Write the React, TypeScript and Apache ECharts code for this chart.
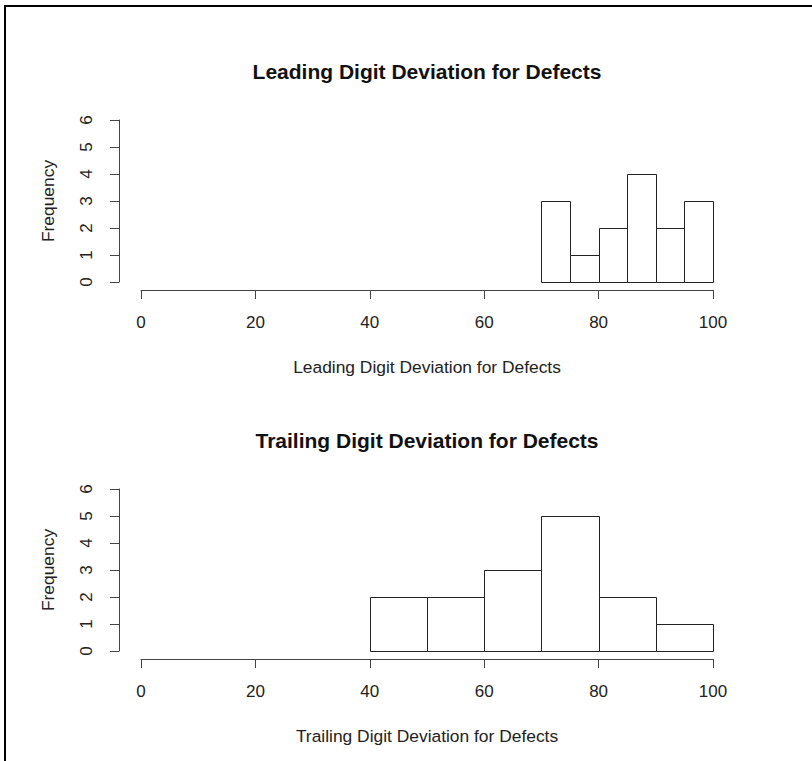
import React, { useEffect, useRef } from "react";
import * as echarts from "echarts";

const leadingTitle = "Leading Digit Deviation for Defects";
const trailingTitle = "Trailing Digit Deviation for Defects";
const leadingBreaks = [70, 75, 80, 85, 90, 95, 100];
const leadingCounts = [3, 1, 2, 4, 2, 3];
const trailingBreaks = [40, 50, 60, 70, 80, 90, 100];
const trailingCounts = [2, 2, 3, 5, 2, 1];
const xTicks = [0, 20, 40, 60, 80, 100];
const yTicks = [0, 1, 2, 3, 4, 5, 6];

const FONT = "'Liberation Sans', Arial, Helvetica, sans-serif";

function histData(breaks: number[], counts: number[]) {
  return counts.map((c, i) => [breaks[i], breaks[i + 1], c]);
}

const renderBar = (params: any, api: any) => {
  const x0 = api.value(0);
  const x1 = api.value(1);
  const y = api.value(2);
  const p0 = api.coord([x0, y]);
  const p1 = api.coord([x1, 0]);
  return {
    type: "rect",
    shape: {
      x: Math.round(p0[0]) + 0.5,
      y: Math.round(p0[1]) + 0.5,
      width: Math.round(p1[0]) - Math.round(p0[0]),
      height: Math.round(p1[1]) - Math.round(p0[1]),
    },
    style: { fill: "#ffffff", stroke: "#222222", lineWidth: 1 },
  };
};

export default function App() {
  const ref = useRef<HTMLDivElement>(null);
  useEffect(() => {
    if (!ref.current) return;
    const chart = echarts.init(ref.current, null, { renderer: "svg" });
    const axisColor = "#444444";
    const makeX = (gridIndex: number, name: string) => ({
      type: "value",
      gridIndex,
      min: xTicks[0],
      max: xTicks[xTicks.length - 1],
      interval: xTicks[1] - xTicks[0],
      offset: 8,
      name,
      nameLocation: "middle",
      nameGap: 68,
      nameTextStyle: { fontFamily: FONT, fontSize: 17.4, color: "#222" },
      axisLine: { show: true, onZero: false, lineStyle: { color: axisColor, width: 1 } },
      axisTick: { show: true, length: 9, lineStyle: { color: axisColor } },
      axisLabel: { margin: 24, fontFamily: FONT, fontSize: 17, color: "#222" },
      splitLine: { show: false },
    });
    const makeY = (gridIndex: number) => ({
      type: "value",
      gridIndex,
      min: yTicks[0],
      max: yTicks[yTicks.length - 1],
      interval: 1,
      offset: 22,
      name: "Frequency",
      nameLocation: "middle",
      nameGap: 63,
      nameTextStyle: { fontFamily: FONT, fontSize: 17.4, color: "#222" },
      axisLine: { show: true, onZero: false, lineStyle: { color: axisColor, width: 1 } },
      axisTick: { show: true, length: 9, lineStyle: { color: axisColor } },
      axisLabel: { margin: 24, rotate: 90, fontFamily: FONT, fontSize: 17, color: "#222" },
      splitLine: { show: false },
    });
    chart.setOption({
      animation: false,
      backgroundColor: "#ffffff",
      title: [
        {
          text: leadingTitle,
          left: 427,
          top: 61,
          textAlign: "center",
          padding: 0,
          textStyle: { fontFamily: FONT, fontSize: 21, fontWeight: "bold", color: "#111" },
        },
        {
          text: trailingTitle,
          left: 427,
          top: 430,
          textAlign: "center",
          padding: 0,
          textStyle: { fontFamily: FONT, fontSize: 21, fontWeight: "bold", color: "#111" },
        },
      ],
      grid: [
        { left: 141, width: 572, top: 120, height: 162 },
        { left: 141, width: 572, top: 489, height: 162 },
      ],
      xAxis: [makeX(0, leadingTitle), makeX(1, trailingTitle)],
      yAxis: [makeY(0), makeY(1)],
      series: [
        {
          type: "custom",
          xAxisIndex: 0,
          yAxisIndex: 0,
          renderItem: renderBar,
          data: histData(leadingBreaks, leadingCounts),
          encode: { x: [0, 1], y: 2 },
        },
        {
          type: "custom",
          xAxisIndex: 1,
          yAxisIndex: 1,
          renderItem: renderBar,
          data: histData(trailingBreaks, trailingCounts),
          encode: { x: [0, 1], y: 2 },
        },
      ],
      graphic: [
        { type: "rect", shape: { x: 4, y: 5, width: 808, height: 2 }, style: { fill: "#000" }, silent: true },
        { type: "rect", shape: { x: 4, y: 5, width: 2, height: 756 }, style: { fill: "#000" }, silent: true },
      ],
    });
    return () => chart.dispose();
  }, []);
  return (
    <div
      ref={ref}
      style={{ position: "fixed", left: 0, top: 0, width: 812, height: 761 }}
    />
  );
}
